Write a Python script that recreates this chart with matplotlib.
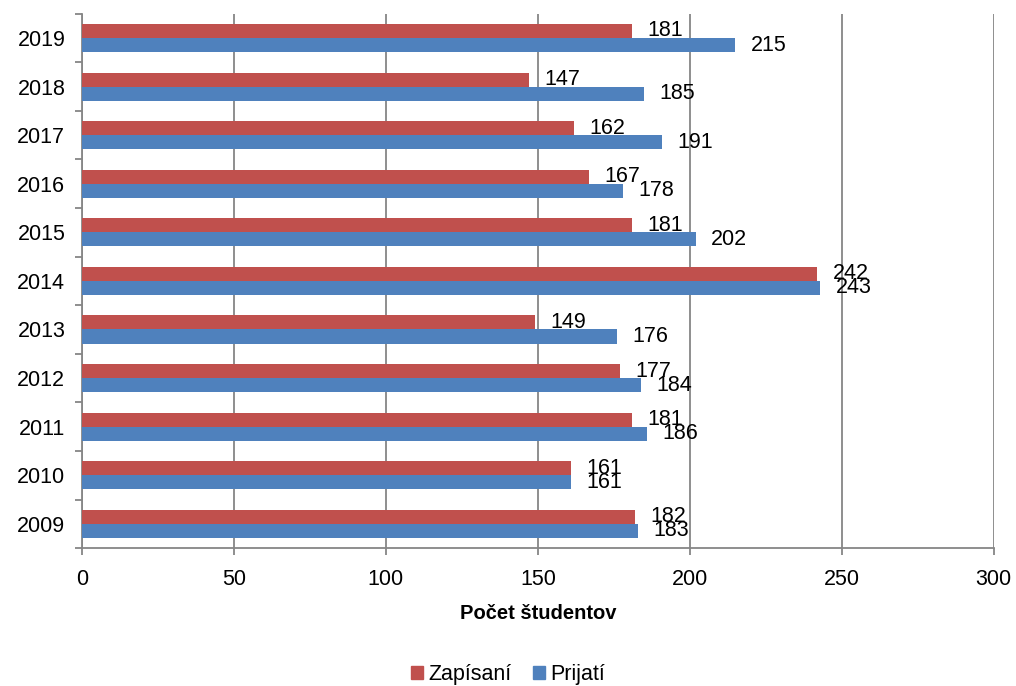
import numpy as np
import matplotlib
matplotlib.use("Agg")
import matplotlib.pyplot as plt
from matplotlib.patches import Patch

# ---------------- Data ----------------
years = ["2009", "2010", "2011", "2012", "2013", "2014", "2015", "2016", "2017", "2018", "2019"]
zapisani = [182, 161, 181, 177, 149, 242, 181, 167, 162, 147, 181]
prijati = [183, 161, 186, 184, 176, 243, 202, 178, 191, 185, 215]

RED = "#C0504D"
BLUE = "#4F81BD"
GRID = "#868686"
FS = 15.5

plt.rcParams["font.family"] = ["Liberation Sans", "DejaVu Sans"]

fig = plt.figure(figsize=(10.16, 6.86), dpi=100)
ax = fig.add_axes([0.0807, 0.201, 0.8973, 0.779])

y = np.arange(len(years))
h = 0.29
ax.barh(y + h / 2, zapisani, height=h, color=RED, zorder=3)
ax.barh(y - h / 2, prijati, height=h, color=BLUE, zorder=3)

# value labels (they overlap where values are close, as in the original)
for i in range(len(years)):
    ax.annotate(str(zapisani[i]), (zapisani[i], y[i] + h / 2), xytext=(11, 0),
                textcoords="offset points", ha="left", va="center", fontsize=FS)
    ax.annotate(str(prijati[i]), (prijati[i], y[i] - h / 2), xytext=(11, 0),
                textcoords="offset points", ha="left", va="center", fontsize=FS)

ax.set_xlim(0, 300)
ax.set_ylim(-0.5, len(years) - 0.5)
ax.set_xticks(np.arange(0, 301, 50))
ax.set_yticks(y)
ax.set_yticklabels(years)
ax.set_yticks(np.arange(-0.5, len(years), 1), minor=True)

ax.grid(axis="x", color=GRID, linewidth=1.3, zorder=0)
for s in ["top", "right"]:
    ax.spines[s].set_visible(False)
for s in ["left", "bottom"]:
    ax.spines[s].set_color(GRID)
    ax.spines[s].set_linewidth(1.3)

ax.tick_params(axis="y", which="major", length=0, pad=12, labelsize=FS)
ax.tick_params(axis="y", which="minor", length=5, color=GRID, width=1.3)
ax.tick_params(axis="x", which="major", length=5, color=GRID, width=1.3, pad=10, labelsize=FS)

ax.set_xlabel("Počet študentov", fontsize=14.5, fontweight="bold", labelpad=10)

handles = [Patch(color=RED, label="Zapísaní"), Patch(color=BLUE, label="Prijatí")]
fig.legend(handles=handles, loc="lower center", bbox_to_anchor=(0.5, -0.027), ncol=2,
           frameon=False, fontsize=FS, handlelength=0.55, handleheight=0.55,
           handletextpad=0.25, columnspacing=1.0)

fig.savefig("out.png", dpi=100)
